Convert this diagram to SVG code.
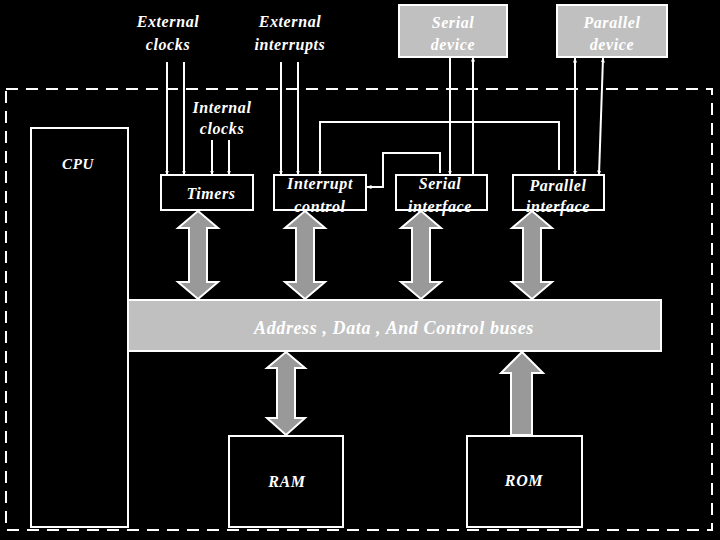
<svg xmlns="http://www.w3.org/2000/svg" width="720" height="540" viewBox="0 0 720 540">
<style>
.bg{fill:#000}
.box{fill:#000;stroke:#fff;stroke-width:2}
.gbox{fill:#c0c0c0;stroke:#fff;stroke-width:2}
.t{font-family:"Liberation Serif","DejaVu Serif",serif;font-weight:bold;font-style:italic;fill:#fff;text-anchor:middle;letter-spacing:0.6px}
.w{fill:none;stroke:#fff;stroke-width:2}
.big{fill:#999;stroke:#fff;stroke-width:2;stroke-linejoin:miter}
.dash{fill:none;stroke:#fff;stroke-width:2;stroke-dasharray:12,8}
</style>
<defs>
<marker id="ah" viewBox="0 0 10 10" refX="9" refY="5" markerWidth="5" markerHeight="5" orient="auto-start-reverse" markerUnits="userSpaceOnUse">
<path d="M0,1 L10,5 L0,9 Z" fill="#fff"/>
</marker>
</defs>
<rect class="bg" x="0" y="0" width="720" height="540"/>
<rect class="dash" x="6" y="89" width="706" height="441"/>

<g id="cpu"><rect class="box" x="31" y="128" width="97" height="399"/><text class="t" x="78" y="169" font-size="15">CPU</text></g>
<g id="bus"><rect class="gbox" x="128" y="300" width="533" height="51"/><text class="t" x="394" y="334" font-size="18">Address , Data , And Control buses</text></g>
<g id="timers"><rect class="box" x="161" y="175" width="92" height="35"/><text class="t" x="211" y="199" font-size="16">Timers</text></g>
<g id="intctl"><rect class="box" x="274" y="175" width="92" height="35"/><text class="t" x="320" y="189" font-size="16">Interrupt</text><text class="t" x="320" y="212" font-size="16">control</text></g>
<g id="serif"><rect class="box" x="396" y="175" width="91" height="35"/><text class="t" x="440" y="189" font-size="16">Serial</text><text class="t" x="440" y="212" font-size="16">interface</text></g>
<g id="parif"><rect class="box" x="513" y="175" width="91" height="35"/><text class="t" x="558" y="191" font-size="16">Parallel</text><text class="t" x="558" y="212" font-size="16">interface</text></g>
<g id="serdev"><rect class="gbox" x="399" y="5" width="108" height="52"/><text class="t" x="453" y="28" font-size="16">Serial</text><text class="t" x="453" y="50" font-size="16">device</text></g>
<g id="pardev"><rect class="gbox" x="557" y="5" width="110" height="52"/><text class="t" x="612" y="28" font-size="16">Parallel</text><text class="t" x="612" y="50" font-size="16">device</text></g>
<g id="ram"><rect class="box" x="229" y="436" width="114" height="91"/><text class="t" x="287" y="487" font-size="16">RAM</text></g>
<g id="rom"><rect class="box" x="467" y="436" width="115" height="91"/><text class="t" x="524" y="486" font-size="16">ROM</text></g>
<g id="extclk"><text class="t" x="168" y="27" font-size="16">External</text><text class="t" x="168" y="50" font-size="16">clocks</text></g>
<g id="extint"><text class="t" x="290" y="27" font-size="16">External</text><text class="t" x="290" y="50" font-size="16">interrupts</text></g>
<g id="intclk"><text class="t" x="222" y="113" font-size="16">Internal</text><text class="t" x="222" y="134" font-size="16">clocks</text></g>

<g id="connectors">
<line class="w" x1="167" y1="62" x2="167" y2="175" marker-end="url(#ah)"/>
<line class="w" x1="184" y1="62" x2="184" y2="175" marker-end="url(#ah)"/>
<line class="w" x1="212" y1="140" x2="212" y2="175" marker-end="url(#ah)"/>
<line class="w" x1="229" y1="140" x2="229" y2="175" marker-end="url(#ah)"/>
<line class="w" x1="281" y1="62" x2="281" y2="175" marker-end="url(#ah)"/>
<line class="w" x1="298" y1="62" x2="298" y2="175" marker-end="url(#ah)"/>
<polyline class="w" points="559,170 559,122 320,122 320,175" marker-end="url(#ah)"/>
<polyline class="w" points="440,173 440,153 383,153 383,187 367,187" marker-end="url(#ah)"/>
<line class="w" x1="450" y1="57" x2="450" y2="175" marker-end="url(#ah)"/>
<line class="w" x1="473" y1="175" x2="473" y2="57" marker-end="url(#ah)"/>
<line class="w" x1="575" y1="58" x2="575" y2="175" marker-start="url(#ah)" marker-end="url(#ah)"/>
<line class="w" x1="603" y1="58" x2="599" y2="175" marker-start="url(#ah)" marker-end="url(#ah)"/>
<path class="big" d="M198,211 L218,228 L207,228 L207,282 L218,282 L198,299 L178,282 L189,282 L189,228 L178,228 Z"/>
<path class="big" d="M305,211 L325,228 L314,228 L314,282 L325,282 L305,299 L285,282 L296,282 L296,228 L285,228 Z"/>
<path class="big" d="M421,211 L441,228 L430,228 L430,282 L441,282 L421,299 L401,282 L412,282 L412,228 L401,228 Z"/>
<path class="big" d="M532,211 L552,228 L541,228 L541,282 L552,282 L532,299 L512,282 L523,282 L523,228 L512,228 Z"/>
<path class="big" d="M286,352 L305,368 L295,368 L295,418 L305,418 L286,435 L267,418 L277,418 L277,368 L267,368 Z"/>
<path class="big" d="M522,352 L543,373 L532,373 L532,435 L511,435 L511,373 L501,373 Z"/>
</g>
</svg>
